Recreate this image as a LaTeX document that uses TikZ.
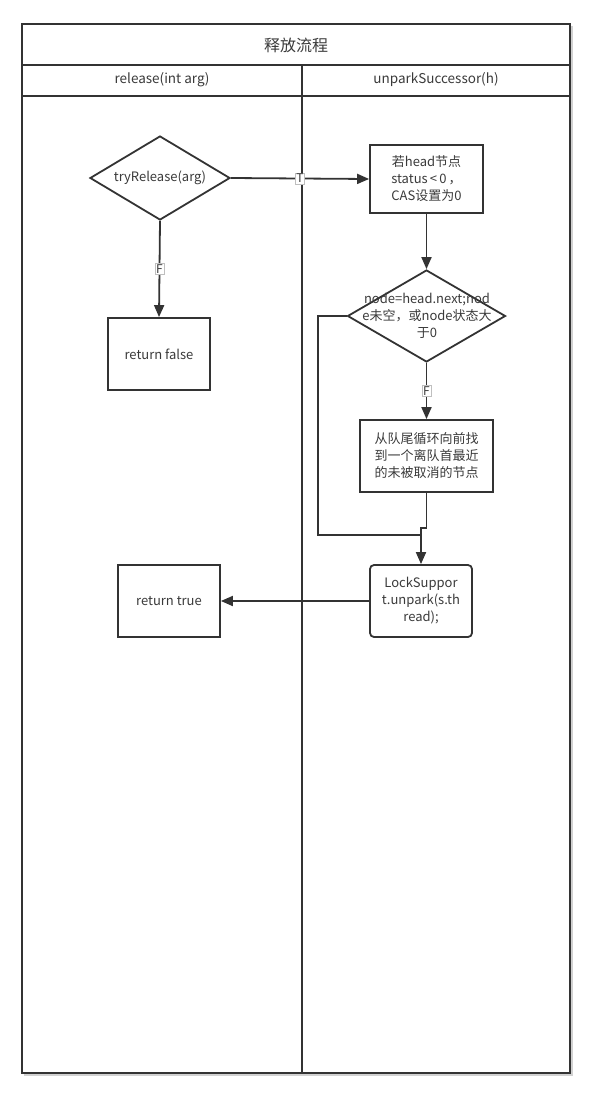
\documentclass[tikz,border=0pt]{standalone}
\usepackage{fontspec}
\setmainfont{Noto Sans CJK SC}
\usetikzlibrary{arrows.meta,shapes.geometric}
\definecolor{ln}{HTML}{333333}
\definecolor{tx}{HTML}{3A3A3A}
\tikzset{
  frame/.style={draw=ln, line width=1.8pt},
  box/.style={draw=ln, line width=1.8pt, minimum width=#1, align=center, inner sep=0pt, text=tx, font=\fontsize{13}{17}\selectfont},
  dia/.style={draw=ln, line width=1.8pt, diamond, inner sep=0pt},
  dtxt/.style={align=center, text=tx, font=\fontsize{13}{17}\selectfont},
  arr/.style={draw=ln, line width=1.8pt, -{Triangle[length=12pt,width=10pt]}},
  con/.style={draw=ln, line width=1.8pt},
  lbl/.style={fill=white, draw=black!25, line width=0.4pt, inner sep=1pt, text=tx, font=\fontsize{12}{13}\selectfont},
  hdr/.style={text=tx, font=\fontsize{13.5}{15}\selectfont},
}
\begin{document}
\begin{tikzpicture}[x=1pt,y=-1pt]
\useasboundingbox (0,0) rectangle (592,1105);
% shadow
\draw[black!18, line width=1.5pt] (24,1075) -- (572,1075) -- (572,26);
% frame
\draw[frame] (22,24) rectangle (570,1073);
\draw[frame] (22,65) -- (570,65);
\draw[frame] (22,96) -- (570,96);
\draw[frame] (302,65) -- (302,1073);
\node[text=tx, font=\fontsize{16}{18}\selectfont] (title) at (296,45) {释放流程};
\node[hdr] (h1) at (162,80) {release(int arg)};
\node[hdr] (h2) at (436,80) {unparkSuccessor(h)};
% left lane
\node[dia, minimum width=140pt, minimum height=84pt] (d1) at (160,178) {};
\node[dtxt] (d1t) at (d1) {tryRelease(arg)};
\node[box=102pt, minimum height=72pt] (rf) at (159,354) {return false};
\node[box=102pt, minimum height=72pt] (rt) at (169,601) {return true};
% right lane
\node[box=113pt, minimum height=68pt] (b1) at (426.5,179) {若head节点\\status\,<\,0\,，\\CAS设置为0};
\node[dia, minimum width=158pt, minimum height=92pt] (d2) at (426.5,316) {};
\node[dtxt] (d2t) at (427,316) {node=head.next;nod\\e未空，或node状态大\\于0};
\node[box=133pt, minimum height=72pt] (b2) at (426.5,456) {从队尾循环向前找\\到一个离队首最近\\的未被取消的节点};
\node[box=102pt, minimum height=72pt, rounded corners=4pt] (lk) at (421,601) {LockSuppor\\t.unpark(s.th\\read);};
\coordinate (j1) at (426.5,528);
\coordinate (j2) at (318,535);
% connectors
\draw[arr] (d1.east) -- (b1.west) node[pos=0.5, lbl] {T};
\draw[arr] (d1.south) -- (rf.north) node[pos=0.5, lbl] {F};
\draw[arr] (b1.south) -- (d2.north);
\draw[arr] (d2.south) -- (b2.north) node[pos=0.5, lbl] {F};
\draw[arr] (b2.south) -- (j1) -- (lk.north |- j1) -- (lk.north);
\draw[con] (d2.west) -| (j2) -- (lk.north |- j2);
\draw[arr] (lk.west) -- (rt.east);
\end{tikzpicture}
\end{document}
